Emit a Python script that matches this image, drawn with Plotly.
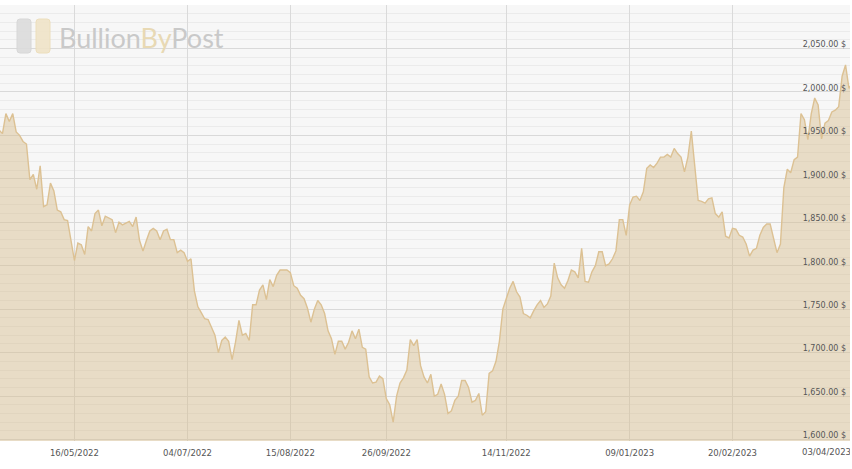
import pandas as pd
import plotly.graph_objects as go

holidays = ["2022-04-15","2022-04-18","2022-05-02","2022-06-02","2022-06-03","2022-08-29","2022-09-19",
            "2022-12-26","2022-12-27","2022-12-30","2023-01-02","2023-04-07","2023-04-10"]
dates = [d.strftime("%Y-%m-%d") for d in pd.bdate_range("2022-04-11", "2023-04-13") if d.strftime("%Y-%m-%d") not in holidays]

prices = [1956,1952,1975,1966,1975,1954,1950,1943,1940,1899,1905,1888,1915,1868,1870,1895,1886,1864,1862,1853,1852,1831,
1806,1826,1824,1813,1845,1840,1860,1864,1846,1857,1855,1853,1838,1850,1847,1849,1851,1845,1856,1829,1817,1829,1840,1843,1840,1830,1840,1842,1830,1830,1815,1818,1815,1805,1808,1771,1753,1746,1739,1738,1729,1720,1700,1714,1718,1713,1692,1712,1737,1720,1722,1714,1755,1755,1772,1778,1761,1784,1776,1789,1795,1795,
1795,1792,1777,1774,1766,1762,1751,1735,1750,1760,1755,1745,1725,1716,1698,1713,1713,1704,1712,1725,1716,1727,1706,1704,1672,1665,1666,1673,1670,1647,1640,1620,1650,1665,1671,1680,1715,1708,1715,1685,1672,1665,1675,1650,1652,1664,1652,1630,1633,1645,1650,1668,1668,1660,1643,1645,1653,1628,1632,1676,1679,1690,1713,1750,1761,1774,1782,1770,1764,1745,1743,1740,1748,1755,1760,1752,1756,1765,1803,1786,1778,1774,1783,
1795,1793,1786,1820,1782,1781,1793,1800,1816,1816,1800,1802,1808,1817,1853,1853,1835,1870,1879,1880,1875,1885,1912,1916,1913,1918,1925,1925,1928,1925,1935,1929,1925,1908,1925,1955,1918,1875,1874,1872,1877,1878,1860,1856,1862,1834,1832,1843,1842,1835,1833,1825,1811,1818,1820,1835,1844,1848,1848,1830,1815,1825,1890,1911,1907,1922,1925,1975,1968,1945,1975,1993,1985,1946,1964,1967,1977,1979,1983,2018,2031,2004,2010]

x_tick_dates = ["2022-05-16","2022-07-04","2022-08-15","2022-09-26","2022-11-14","2023-01-09","2023-02-20","2023-04-03"]
x_tick_labels = ["16/05/2022","04/07/2022","15/08/2022","26/09/2022","14/11/2022","09/01/2023","20/02/2023",""]
last_label = "03/04/2023"
y_ticks = [1600,1650,1700,1750,1800,1850,1900,1950,2000,2050]
y_labels = ["1,600.00 $","1,650.00 $","1,700.00 $","1,750.00 $","1,800.00 $","1,850.00 $","1,900.00 $","1,950.00 $","2,000.00 $","2,050.00 $"]

XFONT = dict(family="DejaVu Sans", size=8.5, color="#555555")
YFONT = dict(family="DejaVu Sans", size=8, color="#555555")
W, H = 850, 469
PH = H - 33


def py(y):
    return 1 - (y - 5) / PH


def rounded(x0, x1, y0, y1, r=3):
    X = lambda v: v / W
    Y = py
    return (f"M {X(x0+r)} {Y(y0)} L {X(x1-r)} {Y(y0)} Q {X(x1)} {Y(y0)} {X(x1)} {Y(y0+r)} "
            f"L {X(x1)} {Y(y1-r)} Q {X(x1)} {Y(y1)} {X(x1-r)} {Y(y1)} L {X(x0+r)} {Y(y1)} "
            f"Q {X(x0)} {Y(y1)} {X(x0)} {Y(y1-r)} L {X(x0)} {Y(y0+r)} Q {X(x0)} {Y(y0)} {X(x0+r)} {Y(y0)} Z")


fig = go.Figure(go.Scatter(x=dates, y=prices, mode="lines", fill="tozeroy",
                           line=dict(color="#dcc193", width=1.4),
                           fillcolor="rgba(214,190,142,0.47)", hoverinfo="skip"))
fig.update_layout(
    width=W, height=H, margin=dict(l=0, r=0, t=5, b=28),
    paper_bgcolor="white", plot_bgcolor="#f7f7f7", showlegend=False,
    xaxis=dict(type="category", categoryorder="array", categoryarray=dates,
               range=[0.28, 248.3], tickmode="array", tickvals=x_tick_dates, ticktext=x_tick_labels,
               tickfont=XFONT, ticklabelstandoff=5, showgrid=True, gridcolor="#dadada", gridwidth=1, ticks="",
               zeroline=False, showline=False),
    yaxis=dict(side="right", range=[1598.3, 2100], tickmode="array", tickvals=y_ticks, ticktext=y_labels,
               ticklabelposition="inside", tickfont=YFONT, ticklabelshift=-4, ticklabelstandoff=1,
               showgrid=True, gridcolor="#d9d9d9", gridwidth=1.2, zeroline=False, showline=False, ticks="",
               minor=dict(dtick=10, tick0=1600, showgrid=True, gridcolor="#ebebeb", gridwidth=1)),
)
fig.add_annotation(x=x_tick_dates[-1], y=0, xref="x", yref="paper", yanchor="top", xanchor="center",
                   text=last_label, showarrow=False, font=XFONT, xshift=-9, yshift=-4)
fig.add_annotation(x=57 / W, y=py(37), xref="paper", yref="paper", xanchor="left", yanchor="middle",
                   text='Bullion<span style="color:#e8d9b4">By</span>Post', showarrow=False,
                   font=dict(family="Lato", size=27, color="#c9c9c9"))
fig.add_shape(type="path", xref="paper", yref="paper", path=rounded(17, 31, 19, 53),
              fillcolor="#dcdcdc", line=dict(color="#d4d4d4", width=1), opacity=0.9)
fig.add_shape(type="path", xref="paper", yref="paper", path=rounded(36, 50, 19, 53),
              fillcolor="#f0e4c8", line=dict(color="#ecdcb6", width=1), opacity=0.9)
fig.write_html("out.html", config={"displayModeBar": False},
               post_script="document.body.style.margin='0';")
